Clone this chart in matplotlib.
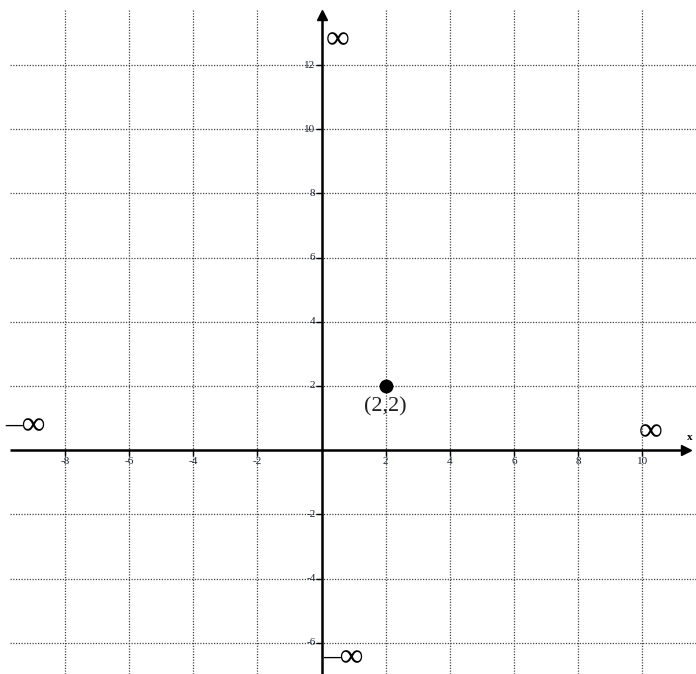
import matplotlib
matplotlib.use("Agg")
import matplotlib.pyplot as plt

# Data
x_ticks = [-8, -6, -4, -2, 2, 4, 6, 8, 10]
y_ticks = [-6, -4, -2, 2, 4, 6, 8, 10, 12]
x_tick_labels = ["-8", "-6", "-4", "-2", "2", "4", "6", "8", "10"]
y_tick_labels = ["-6", "-4", "-2", "2", "4", "6", "8", "10", "12"]
point_x = [2]
point_y = [2]
point_label = "(2,2)"

serif = ["Liberation Serif", "DejaVu Serif"]

fig = plt.figure(figsize=(6.96, 6.74), dpi=100)
ax = fig.add_axes([0, 0, 1, 1])
sx = 32.06
sy = 32.1
x0px = 321.5
y0px = 450.2
ax.set_xlim(-x0px / sx, (696 - x0px) / sx)
ax.set_ylim(-(674 - y0px) / sy, y0px / sy)
ax.axis("off")

xmin_grid = (10 - x0px) / sx
ymax_grid = (y0px - 10) / sy
xmax = (696 - x0px) / sx
ymin = -(674 - y0px) / sy

# grid
ax.vlines(x_ticks, ymin, ymax_grid, colors="#444444", linestyles=(0, (1, 1.2)), linewidth=0.9, zorder=1)
ax.hlines(y_ticks, xmin_grid, xmax, colors="#444444", linestyles=(0, (1, 1.2)), linewidth=0.9, zorder=1)

# axes
x_arrow_end = (691 - x0px) / sx
y_arrow_end = (y0px - 10) / sy
ax.plot([xmin_grid, x_arrow_end - 0.25], [0, 0], color="black", lw=1.8, zorder=3, solid_capstyle="butt")
ax.plot([0, 0], [ymin, y_arrow_end - 0.25], color="black", lw=1.8, zorder=3, solid_capstyle="butt")
ax.plot([x_arrow_end - 0.15], [0], marker=">", color="black", markersize=7, zorder=4, linestyle="none")
ax.plot([0], [y_arrow_end - 0.15], marker="^", color="black", markersize=7, zorder=4, linestyle="none")

# ticks
tick_len_x = 5 / sy
tick_len_y = 5 / sx
for xv, lab in zip(x_ticks, x_tick_labels):
    ax.plot([xv, xv], [0, -tick_len_x], color="black", lw=1, zorder=3)
    ax.text(xv, -7 / sy, lab, ha="center", va="top", fontsize=8, family=serif,
            color="#1a2433", zorder=5)
for yv, lab in zip(y_ticks, y_tick_labels):
    ax.plot([0, -tick_len_y], [yv, yv], color="black", lw=1, zorder=3)
    ax.text(-6 / sx, yv, lab, ha="right", va="center", fontsize=8, family=serif,
            color="#1a2433", zorder=5)

ax.text((690 - x0px) / sx, (y0px - 437) / sy, "x", ha="center", va="center",
        fontsize=8, fontweight="bold", family=serif, zorder=5)

# point
ax.plot(point_x, point_y, "o", color="black", markersize=9, zorder=6)
ax.text(point_x[0], point_y[0] - 0.65, point_label, ha="center", va="center",
        fontsize=16, family=serif, color="#222222", zorder=6)

# infinity labels
inf_size = 24
ax.text((338 - x0px) / sx, (y0px - 40) / sy, "∞", ha="center", va="center", fontsize=inf_size, family=serif)
ax.text((651 - x0px) / sx, (y0px - 432) / sy, "∞", ha="center", va="center", fontsize=inf_size, family=serif)
ax.text((25 - x0px) / sx, (y0px - 426) / sy, "–∞", ha="center", va="center", fontsize=inf_size, family=serif)
ax.text((343 - x0px) / sx, (y0px - 673) / sy, "–∞", ha="center", va="bottom", fontsize=inf_size, family=serif)

fig.savefig("out.png", dpi=100)
